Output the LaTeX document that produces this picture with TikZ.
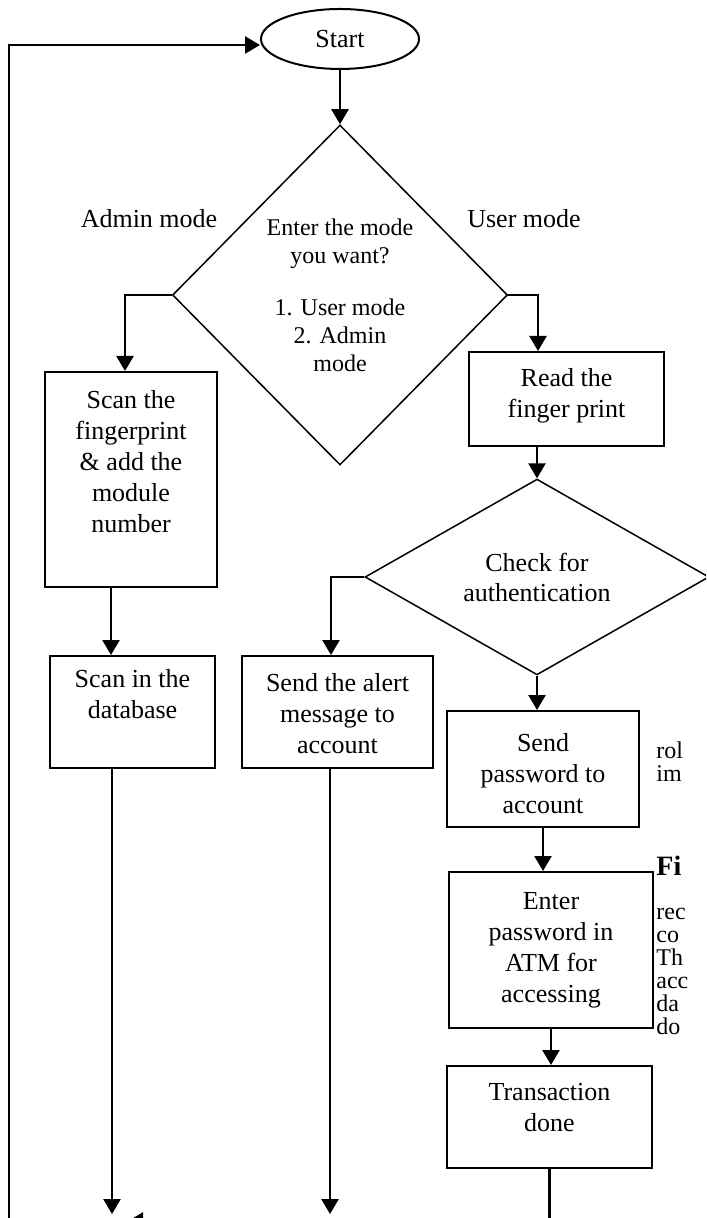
\documentclass[tikz,border=0pt]{standalone}
\usepackage{fontspec}
\setmainfont{Liberation Serif}
\usetikzlibrary{arrows.meta, shapes.geometric}

\begin{document}
\begin{tikzpicture}[x=0.5pt, y=-0.5pt,
    box/.style={draw, line width=1pt, inner sep=0pt, font=\fontsize{13}{15.5}\selectfont},
    decision/.style={draw, diamond, line width=0.75pt, inner sep=0pt, align=center},
    flow/.style={line width=1.25pt, -{Triangle[length=7.5pt, width=8.5pt]}},
    plain/.style={line width=1.25pt},
    lbl/.style={font=\fontsize{13}{15}\selectfont},
    pagetext/.style={anchor=base west, inner sep=0pt, font=\fontsize{12}{12}\selectfont}]
  \useasboundingbox (0,0) rectangle (706,1218);
  \clip (0,0) rectangle (706,1218);

  % ---------- start and mode choice ----------
  \node[draw, ellipse, line width=1pt, minimum width=79pt, minimum height=30pt, inner sep=0pt, lbl] (start) at (340,39) {Start};
  \node[decision, minimum width=167.5pt, minimum height=170pt, font=\fontsize{12}{14}\selectfont] (mode) at (340,295)
    {Enter the mode\\you want?\\[12pt]1. User mode\\2. Admin\\mode};
  \node[lbl] (adminlbl) at (149,219) {Admin mode};
  \node[lbl] (userlbl) at (524,219) {User mode};

  % ---------- admin branch ----------
  \node[box] (admin) at (131,479.5)
    {\parbox[c][107.5pt][t]{86pt}{\centering\vspace{9pt}Scan the\\fingerprint\\\& add the\\module\\number}};
  \node[box] (db) at (132.5,712)
    {\parbox[c][56pt][t]{82.5pt}{\centering\vspace{6.5pt}Scan in the\\database}};

  % ---------- user branch ----------
  \node[box] (read) at (566.5,399)
    {\parbox[c][47pt][t]{97.5pt}{\centering\vspace{8pt}Read the\\finger print}};
  \node[decision, minimum width=172pt, minimum height=85pt, lbl] (check) at (537,577) {Check for\\authentication};
  \node[box] (alert) at (337.5,712)
    {\parbox[c][56pt][t]{95.5pt}{\centering\vspace{8.5pt}Send the alert\\message to\\account}};
  \node[box] (sendpw) at (543,769)
    {\parbox[c][58pt][t]{96pt}{\centering\vspace{11pt}Send\\password to\\account}};
  \node[box] (enter) at (551,950)
    {\parbox[c][78pt][t]{102pt}{\centering\vspace{10pt}Enter\\password in\\ATM for\\accessing}};
  \node[box] (trans) at (549.5,1117)
    {\parbox[c][51pt][t]{102.5pt}{\centering\vspace{8.5pt}Transaction\\done}};

  % ---------- loose ends at the bottom ----------
  \coordinate (loopend) at (9,1230);
  \coordinate (dbend) at (112,1214);
  \coordinate (alertend) at (330,1214);
  \coordinate (transend) at (549.5,1230);
  \coordinate (retfrom) at (549.5,1221);
  \coordinate (retto) at (128,1221);

  % ---------- connectors ----------
  \draw[flow] (loopend) |- ([yshift=-3pt]start.west);
  \draw[flow] (start) -- (start |- mode.north);
  \draw[flow] (mode.west) -| ([xshift=-3pt]admin.north);
  \draw[flow] (mode.east) -| ([xshift=-14.25pt]read.north);
  \draw[flow] (check.north |- read.south) -- (check.north);
  \draw[flow] (check.west) -| ([xshift=-3.25pt]alert.north);
  \draw[flow] (check.south) -- (check.south |- sendpw.north);
  \draw[flow] (sendpw.south) -- (sendpw.south |- enter.north);
  \draw[flow] (enter.south) -- (enter.south |- trans.north);
  \draw[flow] ([xshift=-10pt]admin.south) -- ([xshift=-10pt]admin.south |- db.north);
  \draw[flow] (db.south -| dbend) -- (dbend);
  \draw[flow] (alert.south -| alertend) -- (alertend);
  \draw[plain] (trans.south) -- (transend);
  \draw[flow] (retfrom) -- (retto);

  % ---------- running text of the page ----------
  \node[pagetext] (t1) at (656,758) {rol};
  \node[pagetext] (t2) at (656,781) {im};
  \node[pagetext, font=\fontsize{14}{14}\selectfont\bfseries] (t3) at (656,875) {Fi};
  \node[pagetext] (t4) at (656,919) {rec};
  \node[pagetext] (t5) at (656,942) {co};
  \node[pagetext] (t6) at (656,965) {Th};
  \node[pagetext] (t7) at (656,988) {acc};
  \node[pagetext] (t8) at (656,1011) {da};
  \node[pagetext] (t9) at (656,1034) {do};
\end{tikzpicture}
\end{document}
